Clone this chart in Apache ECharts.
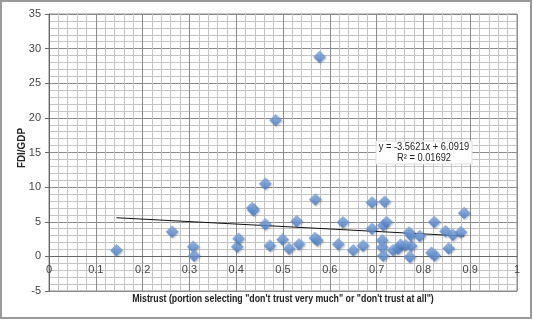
<!DOCTYPE html>
<html><head><meta charset="utf-8">
<script src="https://cdn.jsdelivr.net/npm/echarts@6/dist/echarts.min.js"></script>
<style>html,body{margin:0;padding:0;background:#fff}#c{width:533px;height:320px}</style>
</head><body><div id="c"></div>
<script>
const mistrust = [0.144,0.263,0.308,0.310,0.402,0.405,0.434,0.437,0.462,0.462,0.472,0.484,0.499,0.513,0.529,0.534,0.568,0.573,0.569,0.578,0.618,0.628,0.650,0.671,0.690,0.690,0.717,0.712,0.712,0.714,0.714,0.721,0.735,0.746,0.751,0.762,0.774,0.769,0.773,0.771,0.792,0.817,0.824,0.823,0.847,0.854,0.863,0.880,0.887];
const fdiGdp   = [0.87,3.57,1.40,0.10,1.40,2.55,6.99,6.65,10.5,4.63,1.55,19.67,2.45,1.1,5.06,1.74,2.65,2.31,8.2,28.8,1.74,4.92,0.87,1.54,4.0,7.78,7.9,2.33,1.3,0.1,4.48,4.95,0.87,1.11,1.69,1.59,1.49,3.43,3.04,-0.1,2.94,0.53,0.14,4.97,3.64,1.15,3.1,3.5,6.25];
const slope = -3.5621, intercept = 6.0919, r2 = 0.01692;
const xTicks = {min:0, max:1, interval:0.1};
const yTicks = {min:-5, max:35, interval:5};
const xTitle = 'Mistrust (portion selecting "don\'t trust very much" or "don\'t trust at all")';
const yTitle = 'FDI/GDP';

const pts = mistrust.map((x,i)=>[x,fdiGdp[i]]);
const xmin = Math.min(...mistrust), xmax = Math.max(...mistrust);
const trend = [[xmin, slope*xmin+intercept],[xmax, slope*xmax+intercept]];
const font = 'Liberation Sans, sans-serif';
const gridTop = 14, gridBottom = 29, H = 320;
const plotH = H - gridTop - gridBottom;
const zeroOffset = -plotH * (0 - yTicks.min) / (yTicks.max - yTicks.min);
const chart = echarts.init(document.getElementById('c'), null, {renderer:'canvas'});
chart.setOption({
  animation:false,
  backgroundColor:'#fff',
  grid:{left:49,right:16,top:gridTop,bottom:gridBottom,show:true,borderColor:'#888',borderWidth:1},
  xAxis:[{type:'value',min:xTicks.min,max:xTicks.max,interval:xTicks.interval,offset:zeroOffset,
    axisLine:{onZero:false,lineStyle:{color:'#666'}},
    axisTick:{show:false},
    axisLabel:{color:'#444',fontSize:11,fontFamily:font,margin:8},
    splitLine:{show:true,lineStyle:{color:'#8c8c8c',width:1}},
    minorTick:{show:false,splitNumber:5},
    minorSplitLine:{show:true,lineStyle:{color:'#c4c4c4',width:1}}}],
  yAxis:{type:'value',min:yTicks.min,max:yTicks.max,interval:yTicks.interval,
    axisLine:{show:true,onZero:false,lineStyle:{color:'#666'}},
    axisTick:{show:true,length:4,lineStyle:{color:'#666'}},
    axisLabel:{color:'#444',fontSize:11,fontFamily:font,margin:8},
    splitLine:{show:true,lineStyle:{color:'#8c8c8c',width:1}},
    minorTick:{show:false,splitNumber:5},
    minorSplitLine:{show:true,lineStyle:{color:'#c4c4c4',width:1}}},
  graphic:[
    {type:'rect',shape:{x:1,y:1,width:530,height:317},style:{fill:'none',stroke:'#9a9a9a',lineWidth:2},silent:true,z:-1},
    {type:'text',x:283,y:299,scaleX:0.8,style:{text:xTitle,font:'bold 11px '+font,fill:'#222',align:'center',verticalAlign:'middle'}},
    {type:'text',x:22,y:148,rotation:Math.PI/2,scaleX:0.9,style:{text:yTitle,font:'bold 11px '+font,fill:'#222',align:'center',verticalAlign:'middle'}},
    {type:'rect',shape:{x:376,y:141,width:96,height:23},style:{fill:'#fff',stroke:'#ddd',lineWidth:1},z:10},
    {type:'text',x:424,y:147,scaleX:0.93,style:{text:'y = -3.5621x + 6.0919',font:'10px '+font,fill:'#222',align:'center',verticalAlign:'middle'},z:11},
    {type:'text',x:424,y:158,scaleX:0.93,style:{text:'R\u00b2 = '+r2,font:'10px '+font,fill:'#222',align:'center',verticalAlign:'middle'},z:11}
  ],
  series:[
    {type:'line',data:trend,symbol:'none',lineStyle:{color:'#111',width:1},z:3},
    {type:'scatter',data:pts,symbol:'diamond',symbolSize:[12,12],z:4,
      itemStyle:{color:new echarts.graphic.LinearGradient(0,0,0,1,[{offset:0,color:'#8fb7ec'},{offset:1,color:'#4278c6'}]),
        borderColor:'#6494d8',borderWidth:0.5,shadowColor:'rgba(0,0,0,0.3)',shadowBlur:2,shadowOffsetX:1,shadowOffsetY:1}}
  ]
});
</script></body></html>
